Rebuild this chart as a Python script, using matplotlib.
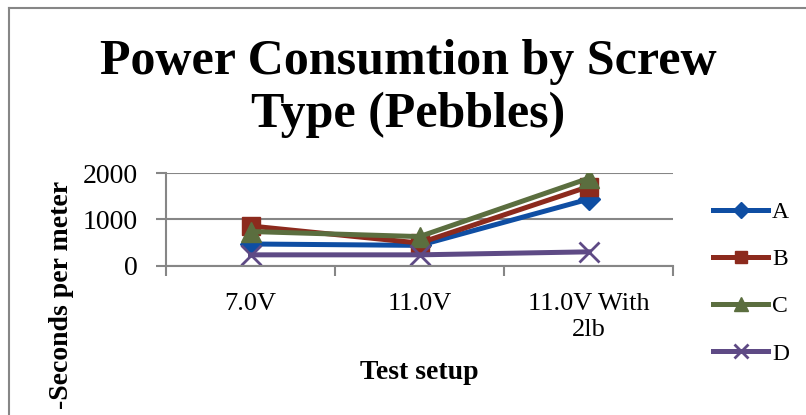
import matplotlib
matplotlib.use('Agg')
import matplotlib.pyplot as plt
from matplotlib.lines import Line2D

# 데이터
setups = ['7.0V', '11.0V', '11.0V With\n2lb']
series = ['A', 'B', 'C', 'D']
val_a = [470, 440, 1440]
val_b = [860, 490, 1710]
val_c = [740, 630, 1890]
val_d = [235, 235, 300]
yticks = [0, 1000, 2000]

colors = ['#0f4ea3', '#8c2a1d', '#5b6e3f', '#5e4a85']
markers = ['D', 's', '^', 'x']
msizes = [11, 13, 14, 15]

plt.rcParams['font.family'] = ['Liberation Serif', 'DejaVu Serif']

W, H = 806, 415
fig = plt.figure(figsize=(W / 100, H / 100), dpi=100)

# 바깥 테두리
fig.add_artist(Line2D([9 / W, 9 / W], [0, 1 - 8 / H], color='#868686', lw=1.5))
fig.add_artist(Line2D([9 / W, 1], [1 - 8 / H, 1 - 8 / H], color='#868686', lw=1.5))

x0, x1 = 166, 673
y0, y1 = 265.7, 173.3
ax = fig.add_axes([x0 / W, 1 - y0 / H, (x1 - x0) / W, (y0 - y1) / H])

xs = range(len(setups))
for vals, c, m, ms, name in zip([val_a, val_b, val_c, val_d], colors, markers, msizes, series):
    ax.plot(xs, vals, color=c, lw=3.6, marker=m, markersize=ms,
            markeredgewidth=2 if m == 'x' else 1, markeredgecolor=c, label=name)

ax.set_xlim(-0.5, len(setups) - 0.5)
ax.set_ylim(0, 2000)
ax.set_yticks(yticks)
ax.set_yticklabels([str(v) for v in yticks], fontsize=20)
ax.set_xticks(list(xs))
ax.set_xticklabels(setups, fontsize=19, linespacing=1.2)
ax.set_xticks([-0.5, 0.5, 1.5, 2.5], minor=True)
ax.tick_params(axis='x', which='major', length=0, pad=20)
ax.tick_params(axis='x', which='minor', length=7, width=1.5, color='#868686')
ax.tick_params(axis='y', length=7, width=1.5, color='#868686', pad=13)
ax.yaxis.grid(True, color='#868686', lw=1.5)
ax.set_axisbelow(True)
for s in ['top', 'right']:
    ax.spines[s].set_visible(False)
for s in ['left', 'bottom']:
    ax.spines[s].set_color('#868686')
    ax.spines[s].set_linewidth(1.5)

fig.text(408 / W, 1 - 74 / H, 'Power Consumtion by Screw', ha='center', va='baseline',
         fontsize=36, fontweight='bold')
fig.text(408 / W, 1 - 127 / H, 'Type (Pebbles)', ha='center', va='baseline',
         fontsize=36, fontweight='bold')
fig.text(419 / W, 1 - 372 / H, 'Test setup', ha='center', va='center',
         fontsize=20, fontweight='bold')
fig.text(61 / W, 1 - 181 / H, '-Seconds per meter', ha='center', va='top',
         rotation=90, fontsize=20, fontweight='bold')

fig.legend(loc='center left', bbox_to_anchor=(713 / W, 1 - 283 / H), frameon=False,
           fontsize=17, handlelength=2.33, labelspacing=1.09, handletextpad=0.17,
           borderpad=0, borderaxespad=0, markerscale=0.7)

fig.savefig('out.png', dpi=100)
